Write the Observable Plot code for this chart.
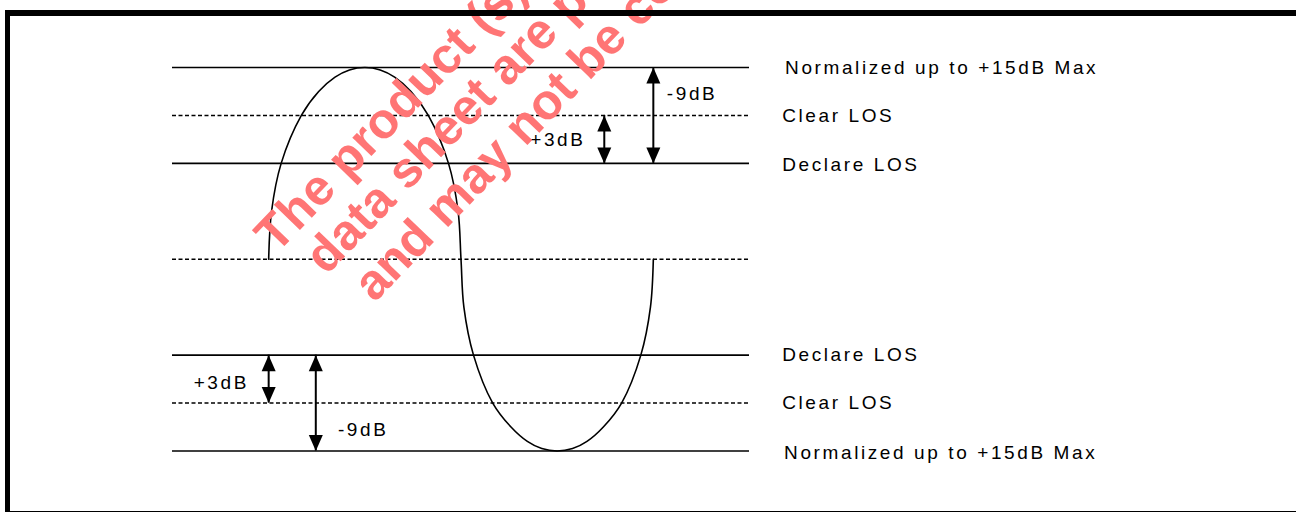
<!DOCTYPE html>
<html>
<head>
<meta charset="utf-8">
<script src="https://cdn.jsdelivr.net/npm/d3@7"></script>
<script src="https://cdn.jsdelivr.net/npm/@observablehq/plot@0.6"></script>
<style>
  html, body { margin: 0; padding: 0; background: white; }
  #wrap { position: relative; width: 1296px; height: 513px; overflow: hidden; }
  #wrap svg { display: block; }
  #border { position: absolute; left: 5px; top: 10px; width: 1291px; height: 502px; box-sizing: border-box;
            border-top: 6px solid #000; border-left: 5px solid #000; border-bottom: 1px solid #000; pointer-events: none; }
</style>
</head>
<body>
<div id="wrap"><div id="border"></div></div>
<script>
// Threshold levels (in 3dB-ish units, 0 = signal midpoint)
const solidLevels = [4, 2, -2, -4];
const dashedLevels = [3, 0, -3];
const levelStart = -1;
const levelEnd = 5;

// Waveform (x in quarter periods, y in level units)
const waveX = [0, 0.03, 0.13, 0.34, 0.52, 0.69, 0.84, 1, 1.16, 1.31, 1.48, 1.66, 1.87, 1.97, 2,
               2.03, 2.13, 2.33, 2.52, 2.69, 2.84, 3, 3.16, 3.31, 3.48, 3.67, 3.87, 3.97, 4];
const waveY = [0, 1, 2, 3, 3.5, 3.8, 3.95, 4, 3.95, 3.8, 3.5, 3, 2, 1, 0,
               -1, -2, -3, -3.5, -3.8, -3.95, -4, -3.95, -3.8, -3.5, -3, -2, -1, 0];

// Level labels on the right
const levelLabels = ["Normalized up to +15dB Max", "Clear LOS", "Declare LOS",
                     "Declare LOS", "Clear LOS", "Normalized up to +15dB Max"];
const levelLabelX = [5.37, 5.34, 5.34, 5.34, 5.34, 5.36];
const levelLabelY = [3.99, 2.99, 1.96, -2.0, -2.99, -4.04];

// Double-headed arrows
const arrowX = [4.0, 3.49, 0.0, 0.49];
const arrowTop = [4, 3, -2, -2];
const arrowBottom = [2, 2, -3, -4];

// Arrow annotations
const dbLabels = ["-9dB", "+3dB", "+3dB", "-9dB"];
const dbLabelX = [4.14, 2.72, -0.78, 0.72];
const dbLabelY = [3.44, 2.48, -2.58, -3.56];

// Watermark
const wmLines = ["The product (s) described in this", "data sheet are preliminary", "and may not be commercially available"];
const wmX = [0.08, 0.6, 1.1];
const wmY = [0.1, -0.35, -0.92];

const wave = waveX.map((x, i) => ({x, y: waveY[i]}));
const levels = [
  ...solidLevels.map(y => ({y, dashed: false})),
  ...dashedLevels.map(y => ({y, dashed: true}))
];
const labels = levelLabels.map((t, i) => ({t, x: levelLabelX[i], y: levelLabelY[i]}));
const arrows = arrowX.map((x, i) => ({x, top: arrowTop[i], bottom: arrowBottom[i]}));
const heads = arrows.flatMap(a => [{x: a.x, y: a.top, r: 0}, {x: a.x, y: a.bottom, r: 180}]);
const dbs = dbLabels.map((t, i) => ({t, x: dbLabelX[i], y: dbLabelY[i]}));
const wm = wmLines.map((t, i) => ({t, x: wmX[i], y: wmY[i]}));

const arrowHead = {
  draw(context) {
    context.moveTo(0, 0);
    context.lineTo(-7, 16);
    context.lineTo(7, 16);
    context.closePath();
  }
};

const font = "'Liberation Sans', Arial, Helvetica, sans-serif";
const wmColor = "#ff7575";

const chart = Plot.plot({
  width: 1296,
  height: 513,
  marginTop: 0, marginRight: 0, marginBottom: 0, marginLeft: 0,
  x: {domain: [-1, 5], range: [172, 749], axis: null},
  y: {domain: [-4, 4], range: [450.5, 67], axis: null},
  style: {background: "white", fontFamily: font, overflow: "visible", letterSpacing: "2.6px"},
  marks: [
    Plot.ruleY(levels.filter(d => !d.dashed), {y: "y", x1: levelStart, x2: levelEnd, stroke: "#000", strokeWidth: 1.6}),
    Plot.ruleY(levels.filter(d => d.dashed), {y: "y", x1: levelStart, x2: levelEnd, stroke: "#000", strokeWidth: 1.4, strokeDasharray: "4,2.5"}),
    Plot.line(wave, {x: "x", y: "y", curve: "catmull-rom", stroke: "#000", strokeWidth: 1.6}),
    Plot.ruleX(arrows, {x: "x", y1: "top", y2: "bottom", stroke: "#000", strokeWidth: 2}),
    Plot.dot(heads, {x: "x", y: "y", rotate: "r", symbol: arrowHead, fill: "#000", stroke: null}),
    Plot.text(labels, {x: "x", y: "y", text: "t", textAnchor: "start", lineAnchor: "middle", fontSize: 19, fill: "#000"}),
    Plot.text(dbs, {x: "x", y: "y", text: "t", textAnchor: "start", lineAnchor: "middle", fontSize: 19, fill: "#000"}),
    Plot.text(wm, {x: "x", y: "y", text: "t", textAnchor: "start", lineAnchor: "bottom", rotate: -46, fontSize: 50, fontWeight: "bold", fill: wmColor})
  ]
});

// the watermark is not letter-spaced
d3.select(chart).selectAll("g").filter(function() { return this.getAttribute("fill") === wmColor; })
  .selectAll("text").style("letter-spacing", "0px");

document.getElementById("wrap").insertBefore(chart, document.getElementById("border"));
</script>
</body>
</html>
